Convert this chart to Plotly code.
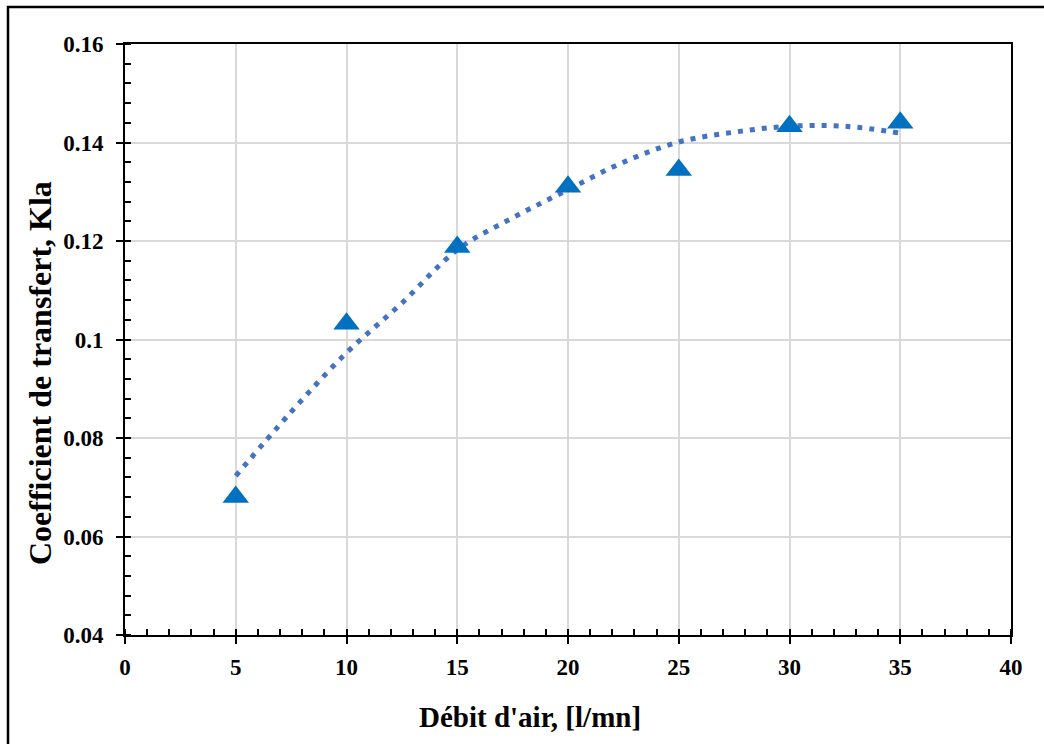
import plotly.graph_objects as go

# Measured data
debit = [5, 10, 15, 20, 25, 30, 35]
kla = [0.068, 0.1032, 0.1188, 0.131, 0.1344, 0.1433, 0.1440]

# Trend line
trend_x = [5, 7.5, 10, 12.5, 15, 17.5, 20, 22.5, 25, 27.5, 30, 32.5, 35]
trend_y = [0.0723, 0.0853, 0.0973, 0.1074, 0.1182, 0.1247, 0.1304, 0.1360,
           0.1401, 0.1421, 0.1433, 0.1433, 0.1419]

x_ticks = [0, 5, 10, 15, 20, 25, 30, 35, 40]
y_ticks = [0.04, 0.06, 0.08, 0.1, 0.12, 0.14, 0.16]
y_labels = ["0.04", "0.06", "0.08", "0.1", "0.12", "0.14", "0.16"]

x_title = "Débit d'air, [l/mn]"
y_title = "Coefficient de transfert, Kla"

font_fam = "Liberation Serif"

fig = go.Figure()
fig.add_trace(go.Scatter(
    x=trend_x, y=trend_y, mode="lines", line_shape="spline",
    line=dict(color="#4472C4", width=5, dash="5px,7px"),
    showlegend=False, hoverinfo="skip"))
fig.add_trace(go.Scatter(
    x=debit, y=kla, mode="markers",
    marker=dict(symbol="triangle-up", size=23, color="#0070C0"),
    showlegend=False))

axis_common = dict(
    showline=True, linecolor="black", linewidth=2, mirror=True,
    showgrid=True, gridcolor="#d9d9d9", gridwidth=1.5,
    ticks="outside", ticklen=7, tickwidth=2, tickcolor="black",
    zeroline=False,
    tickfont=dict(family=font_fam, size=23, color="black", weight="bold"),
)

fig.update_xaxes(
    range=[0, 40], tickvals=x_ticks, ticktext=[str(v) for v in x_ticks],
    ticklabelstandoff=3,
    minor=dict(dtick=1, ticks="inside", ticklen=6, tickwidth=1.5, tickcolor="black", showgrid=False),
    **axis_common)
fig.update_yaxes(
    range=[0.04, 0.16], tickvals=y_ticks, ticktext=y_labels,
    ticklabelstandoff=8,
    minor=dict(dtick=0.004, tick0=0.04, ticks="inside", ticklen=6, tickwidth=1.5, tickcolor="black", showgrid=False),
    **axis_common)

# axis titles placed as in the reference (slightly off-centre)
fig.add_annotation(text=x_title, xref="paper", yref="paper",
                   x=(530 - 125) / 886, y=-(717 - 635) / 591,
                   xanchor="center", yanchor="middle", showarrow=False,
                   font=dict(family=font_fam, size=29, color="black", weight="bold"))
fig.add_annotation(text=y_title, xref="paper", yref="paper",
                   x=(40 - 125) / 886, y=(635 - 373) / 591,
                   xanchor="center", yanchor="middle", showarrow=False, textangle=-90,
                   font=dict(family=font_fam, size=32, color="black", weight="bold"))

# outer frame of the figure
fig.add_shape(type="rect", xref="paper", yref="paper",
              x0=(8 - 125) / 886, x1=1.1, y0=-0.3, y1=1 + 37 / 591,
              line=dict(color="black", width=2.5), layer="below")

fig.update_layout(
    width=1044, height=744,
    margin=dict(l=125, r=33, t=44, b=109, autoexpand=False),
    paper_bgcolor="white", plot_bgcolor="white",
    font=dict(family=font_fam, color="black"),
)

fig.write_html("out.html", config={"displayModeBar": False},
               post_script="document.body.style.margin='0px';")
